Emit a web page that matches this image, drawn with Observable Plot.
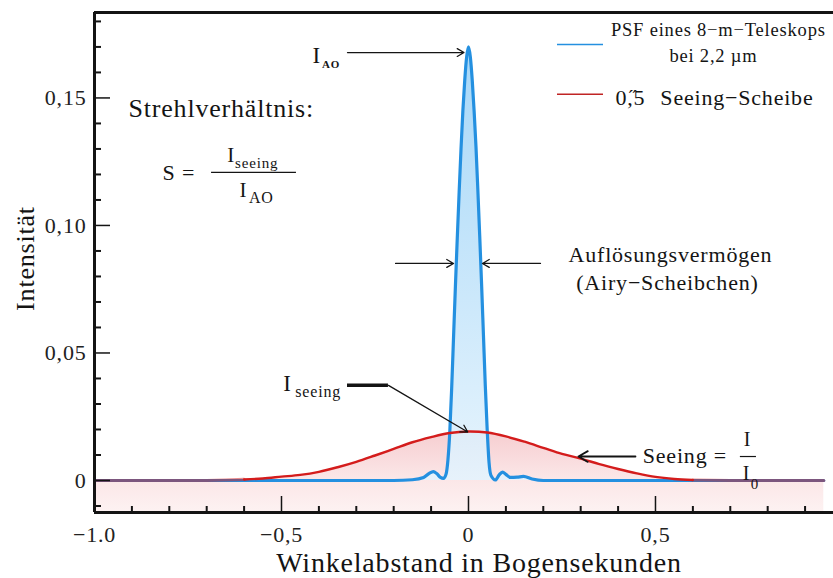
<!DOCTYPE html>
<html>
<head>
<meta charset="utf-8">
<script src="https://cdn.jsdelivr.net/npm/d3@7"></script>
<script src="https://cdn.jsdelivr.net/npm/@observablehq/plot@0.6"></script>
<style>
  body { margin: 0; background: #fff; }
  svg text { font-family: "Liberation Serif", "Times New Roman", serif; letter-spacing: 0.8px; }
</style>
</head>
<body>
<div id="chart"></div>
<script>
// Seeing disc (0,5 arcsec FWHM): angular distance in arcsec and intensity
const seeingX = [-1.00, -0.95, -0.90, -0.85, -0.80, -0.75, -0.70, -0.65, -0.60, -0.55,
                 -0.50, -0.45, -0.40, -0.35, -0.30, -0.25, -0.20, -0.15, -0.10, -0.05,
                  0.00,  0.05,  0.10,  0.15,  0.20,  0.25,  0.30,  0.35,  0.40,  0.45,
                  0.50,  0.55,  0.60,  0.65,  0.70,  0.75,  0.80,  0.85,  0.90,  0.95];
const seeingI = [0, 0, 0, 0, 0, 0, 0, 0.0002, 0.0004, 0.0008,
                 0.0015, 0.0022, 0.0034, 0.0052, 0.0073, 0.0098, 0.0124, 0.0150, 0.0170, 0.0186,
                 0.0192, 0.0188, 0.0173, 0.0152, 0.0128, 0.0104, 0.0086, 0.0064, 0.0045, 0.0028,
                 0.0014, 0.0006, 0.0002, 0.0001, 0, 0, 0, 0, 0, 0];

// Diffraction-limited PSF of an 8 m telescope at 2,2 µm
const psfX = [-1.00, -0.50, -0.20, -0.15, -0.12, -0.105, -0.094, -0.085, -0.075, -0.067,
              -0.060, -0.055, -0.050, -0.045, -0.040, -0.035, -0.030, -0.025, -0.020, -0.015,
              -0.010, -0.005, 0.000, 0.005, 0.010, 0.015, 0.020, 0.025, 0.030, 0.035,
               0.040, 0.045, 0.050, 0.055, 0.060, 0.072, 0.082, 0.091, 0.100, 0.112,
               0.130, 0.147, 0.170, 0.200, 0.500, 0.950];
const psfI = [0, 0, 0, 0.0003, 0.0012, 0.0028, 0.0035, 0.0027, 0.0012, 0.0008,
              0.0025, 0.008, 0.019, 0.036, 0.056, 0.076, 0.095, 0.113, 0.130, 0.145,
              0.157, 0.166, 0.170, 0.166, 0.157, 0.145, 0.131, 0.114, 0.096, 0.077,
              0.057, 0.037, 0.020, 0.007, 0.002, 0.0002, 0.0022, 0.0033, 0.0024, 0.0012,
              0.0013, 0.0016, 0.0006, 0, 0, 0];

// Axis ticks and their German labels
const xMajorTicks = [-1.0, -0.5, 0, 0.5];
const xTickLabels = ["\u22121.0", "\u22120,5", "0", "0,5"];
const xMinorTicks = [-0.9, -0.8, -0.7, -0.6, -0.4, -0.3, -0.2, -0.1, 0.1, 0.2, 0.3, 0.4, 0.6, 0.7, 0.8, 0.9];
const yMajorTicks = [0, 0.05, 0.10, 0.15];
const yTickLabels = ["0", "0,05", "0,10", "0,15"];
const yMinorTicks = [-0.01, 0.01, 0.02, 0.03, 0.04, 0.06, 0.07, 0.08, 0.09, 0.11, 0.12, 0.13, 0.14, 0.16, 0.17, 0.18];

const seeing = seeingX.map((x, i) => ({x, v: seeingI[i]}));
const psf = psfX.map((x, i) => ({x, v: psfI[i]}));

const xDomain = [-1, 0.976];
const yDomain = [-0.01255, 0.1835];

const BLUE = "#2490e0";
const RED = "#d41c1c";
const INK = "#141414";

const chart = Plot.plot({
  width: 833,
  height: 578,
  marginLeft: 94,
  marginTop: 12,
  marginRight: 0,
  marginBottom: 66,
  style: {fontFamily: "Liberation Serif, serif", color: INK, background: "#fff"},
  x: {domain: xDomain, axis: null},
  y: {domain: yDomain, axis: null},
  marks: [
    // filled areas
    Plot.areaY(seeing, {x: "x", y1: yDomain[0], y2: "v", fill: "url(#seeingFill)", curve: "catmull-rom"}),
    Plot.areaY(psf, {x: "x", y: "v", fill: "url(#psfFill)", fillOpacity: 0.9, curve: "monotone-x"}),

    // curves
    Plot.line(psf, {x: "x", y: "v", stroke: BLUE, strokeWidth: 3.2, curve: "monotone-x"}),
    Plot.line(seeing.filter(d => d.x >= -0.6 && d.x <= 0.6), {x: "x", y: "v", stroke: RED, strokeWidth: 2.4, curve: "catmull-rom"}),
    Plot.line(seeing.filter(d => d.x <= -0.6), {x: "x", y: "v", stroke: RED, strokeOpacity: 0.5, strokeWidth: 3.2}),
    Plot.line(seeing.filter(d => d.x >= 0.6), {x: "x", y: "v", stroke: RED, strokeOpacity: 0.5, strokeWidth: 3.2}),

    // axes: inward ticks
    Plot.axisX(xMinorTicks, {anchor: "bottom", label: null, tickSize: -6, strokeWidth: 2, text: null, stroke: INK}),
    Plot.axisX(xMajorTicks, {anchor: "bottom", label: null, tickSize: -16, strokeWidth: 1.5, text: null, stroke: INK}),
    Plot.axisX(xMajorTicks, {anchor: "bottom", label: null, tickSize: 0, tickPadding: 14, fontSize: 22, fill: "#222",
      tickFormat: d => xTickLabels[xMajorTicks.indexOf(d)]}),
    Plot.axisY(yMinorTicks, {anchor: "left", label: null, tickSize: -7, strokeWidth: 2, text: null, stroke: INK}),
    Plot.axisY(yMajorTicks, {anchor: "left", label: null, tickSize: -16, strokeWidth: 1.5, text: null, stroke: INK}),
    Plot.axisY(yMajorTicks, {anchor: "left", label: null, tickSize: 0, tickPadding: 8, fontSize: 22, fill: "#222",
      tickFormat: d => yTickLabels[yMajorTicks.indexOf(d)]}),

    // frame lines
    Plot.ruleX([xDomain[0]], {stroke: INK, strokeWidth: 3}),
    Plot.ruleY([yDomain[0]], {stroke: INK, strokeWidth: 3}),
    Plot.ruleY([yDomain[1]], {stroke: INK, strokeWidth: 3}),

    // axis titles
    Plot.text(["Intensit\u00e4t"], {frameAnchor: "left", textAnchor: "middle", lineAnchor: "middle", dx: -69, dy: -4, rotate: -90, fontSize: 26, fill: INK}),
    Plot.text(["Winkelabstand in Bogensekunden"], {frameAnchor: "bottom", textAnchor: "middle", lineAnchor: "middle", dx: 15, dy: 51, fontSize: 28, fill: INK}),

    // legend
    Plot.ruleY([0.171], {x1: 0.238, x2: 0.361, stroke: BLUE, strokeWidth: 1.5}),
    Plot.text(["PSF eines 8\u2212m\u2212Teleskops"], {x: 0.668, y: 0.1765, fontSize: 18.5, fill: INK}),
    Plot.text(["bei 2,2 \u00b5m"], {x: 0.655, y: 0.1663, fontSize: 18.5, fill: INK}),
    Plot.ruleY([0.1514], {x1: 0.238, x2: 0.361, stroke: "#c02424", strokeWidth: 1.5}),
    Plot.text(["0,\u030B5"], {x: 0.393, y: 0.150, textAnchor: "start", fontSize: 22, fill: INK}),
    Plot.text(["Seeing\u2212Scheibe"], {x: 0.513, y: 0.150, textAnchor: "start", fontSize: 22, fill: INK}),

    // I_AO at the peak
    Plot.text(["I"], {x: -0.417, y: 0.1667, textAnchor: "start", fontSize: 23, fill: INK}),
    Plot.text(["AO"], {x: -0.392, y: 0.1631, textAnchor: "start", fontSize: 11, fontWeight: "bold", fill: INK}),
    Plot.arrow([0], {x1: -0.3235, y1: 0.1678, x2: -0.012, y2: 0.1678, bend: 0, headLength: 9, strokeWidth: 1.3, stroke: INK}),

    // Strehl ratio formula
    Plot.text(["Strehlverh\u00e4ltnis:"], {x: -0.909, y: 0.1459, textAnchor: "start", fontSize: 26, fill: INK}),
    Plot.text(["S ="], {x: -0.818, y: 0.1205, textAnchor: "start", fontSize: 22, fill: INK}),
    Plot.ruleY([0.1208], {x1: -0.687, x2: -0.460, stroke: INK, strokeWidth: 1.2}),
    Plot.text(["I"], {x: -0.645, y: 0.1275, textAnchor: "start", fontSize: 21, fill: INK}),
    Plot.text(["seeing"], {x: -0.624, y: 0.1245, textAnchor: "start", fontSize: 15, fill: INK}),
    Plot.text(["I"], {x: -0.612, y: 0.1137, textAnchor: "start", fontSize: 21, fill: INK}),
    Plot.text(["AO"], {x: -0.587, y: 0.1110, textAnchor: "start", fontSize: 16, fill: INK}),

    // resolution (Airy disc) arrows
    Plot.arrow([0], {x1: -0.195, y1: 0.0851, x2: -0.040, y2: 0.0851, bend: 0, headLength: 9, strokeWidth: 1.3, stroke: INK}),
    Plot.arrow([0], {x1: 0.1925, y1: 0.0851, x2: 0.0374, y2: 0.0851, bend: 0, headLength: 9, strokeWidth: 1.3, stroke: INK}),
    Plot.text(["Aufl\u00f6sungsverm\u00f6gen"], {x: 0.540, y: 0.0886, fontSize: 22, fill: INK}),
    Plot.text(["(Airy\u2212Scheibchen)"], {x: 0.532, y: 0.0773, fontSize: 22, fill: INK}),

    // I_seeing pointer
    Plot.text(["I"], {x: -0.495, y: 0.0380, textAnchor: "start", fontSize: 23, fill: INK}),
    Plot.text(["seeing"], {x: -0.463, y: 0.0348, textAnchor: "start", fontSize: 16, fill: INK}),
    Plot.ruleY([0.0373], {x1: -0.3235, x2: -0.214, stroke: INK, strokeWidth: 3.5}),
    Plot.arrow([0], {x1: -0.214, y1: 0.0373, x2: -0.002, y2: 0.0190, bend: 0, headLength: 9, strokeWidth: 1.3, stroke: INK}),

    // seeing definition
    Plot.arrow([0], {x1: 0.4465, y1: 0.0094, x2: 0.294, y2: 0.0094, bend: 0, headLength: 9, strokeWidth: 1.8, stroke: INK}),
    Plot.text(["Seeing ="], {x: 0.466, y: 0.0098, textAnchor: "start", fontSize: 22, fill: INK}),
    Plot.text(["I"], {x: 0.746, y: 0.0160, fontSize: 20, fill: INK}),
    Plot.ruleY([0.0094], {x1: 0.727, x2: 0.770, stroke: INK, strokeWidth: 1.2}),
    Plot.text(["I"], {x: 0.743, y: 0.0028, fontSize: 20, fill: INK}),
    Plot.text(["0"], {x: 0.766, y: -0.0016, fontSize: 15, fill: INK})
  ]
});

// gradients used by the two filled areas
const defs = d3.select(chart).insert("defs", ":first-child");
const psfGrad = defs.append("linearGradient").attr("id", "psfFill")
  .attr("x1", 0).attr("y1", 0).attr("x2", 0).attr("y2", 1);
psfGrad.append("stop").attr("offset", "0%").attr("stop-color", "#9dd3f7");
psfGrad.append("stop").attr("offset", "100%").attr("stop-color", "#e4f3fd");
const seeingGrad = defs.append("linearGradient").attr("id", "seeingFill")
  .attr("x1", 0).attr("y1", 0).attr("x2", 0).attr("y2", 1);
seeingGrad.append("stop").attr("offset", "0%").attr("stop-color", "#f6cdd0");
seeingGrad.append("stop").attr("offset", "55%").attr("stop-color", "#fbe5e6");
seeingGrad.append("stop").attr("offset", "100%").attr("stop-color", "#fdf2f2");

document.getElementById("chart").appendChild(chart);
</script>
</body>
</html>
